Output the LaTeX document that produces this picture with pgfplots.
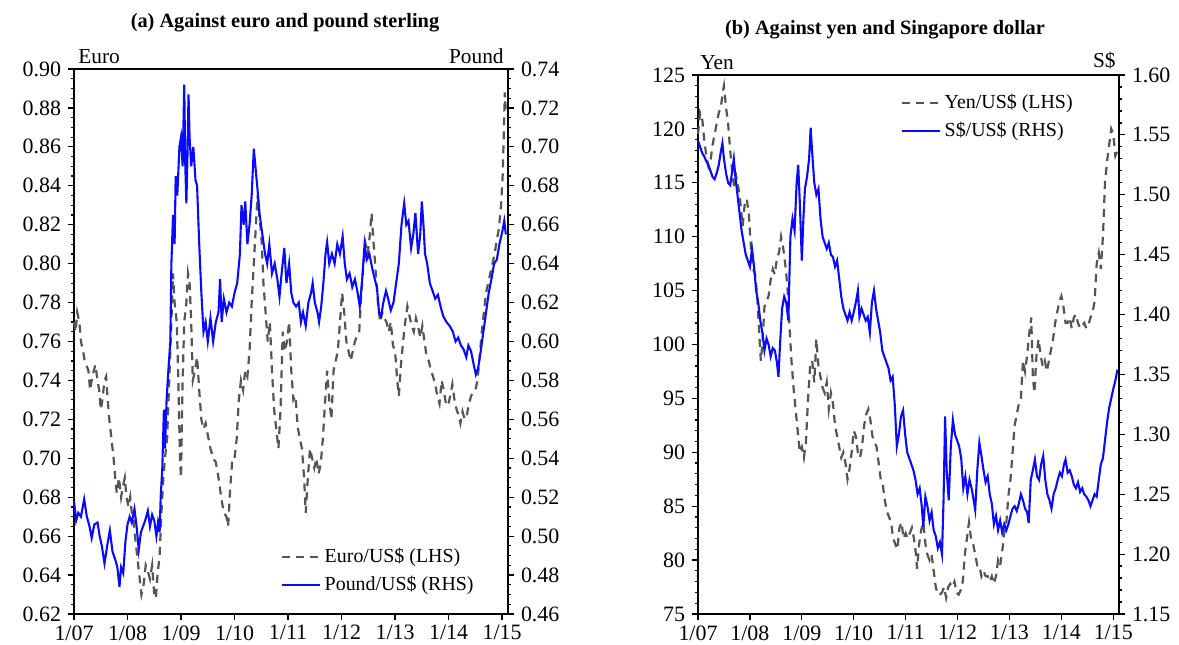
\documentclass[border=0pt]{standalone}
\usepackage{pgfplots}
\pgfplotsset{compat=1.18}
\usepackage{pgfplotstable}
\usepackage{fontspec}
\setmainfont{Liberation Serif}
\definecolor{dashgray}{HTML}{555555}
\definecolor{lineblue}{HTML}{0A0AFF}

% Euro/US$ (LHS, panel a)
\pgfplotstableread{
t v
2007.00 0.770
2007.03 0.765
2007.06 0.775
2007.10 0.770
2007.13 0.760
2007.17 0.755
2007.20 0.750
2007.23 0.748
2007.27 0.745
2007.30 0.735
2007.33 0.740
2007.37 0.745
2007.40 0.748
2007.44 0.740
2007.47 0.735
2007.50 0.725
2007.53 0.730
2007.57 0.740
2007.60 0.742
2007.63 0.730
2007.66 0.720
2007.70 0.710
2007.74 0.700
2007.77 0.690
2007.80 0.682
2007.84 0.690
2007.88 0.680
2007.91 0.685
2007.95 0.690
2007.98 0.680
2008.02 0.675
2008.05 0.680
2008.08 0.672
2008.11 0.670
2008.14 0.660
2008.18 0.650
2008.22 0.640
2008.26 0.630
2008.30 0.635
2008.34 0.645
2008.38 0.642
2008.42 0.638
2008.46 0.645
2008.50 0.630
2008.53 0.628
2008.56 0.640
2008.60 0.650
2008.63 0.670
2008.67 0.690
2008.70 0.700
2008.74 0.710
2008.78 0.740
2008.82 0.770
2008.85 0.795
2008.88 0.780
2008.92 0.770
2008.95 0.740
2008.98 0.700
2009.00 0.690
2009.03 0.740
2009.06 0.770
2009.10 0.780
2009.13 0.795
2009.16 0.790
2009.19 0.770
2009.22 0.740
2009.26 0.745
2009.30 0.752
2009.34 0.735
2009.38 0.720
2009.42 0.715
2009.46 0.718
2009.50 0.712
2009.55 0.705
2009.60 0.700
2009.65 0.698
2009.70 0.690
2009.75 0.680
2009.80 0.672
2009.85 0.670
2009.88 0.665
2009.92 0.685
2009.96 0.700
2010.00 0.700
2010.04 0.710
2010.08 0.730
2010.12 0.740
2010.16 0.735
2010.20 0.745
2010.24 0.742
2010.28 0.755
2010.32 0.780
2010.36 0.800
2010.40 0.820
2010.43 0.835
2010.46 0.825
2010.50 0.815
2010.54 0.790
2010.58 0.775
2010.62 0.760
2010.66 0.770
2010.70 0.745
2010.74 0.725
2010.78 0.715
2010.82 0.705
2010.86 0.725
2010.90 0.765
2010.94 0.755
2010.98 0.760
2011.02 0.770
2011.06 0.745
2011.10 0.730
2011.14 0.732
2011.18 0.716
2011.22 0.710
2011.26 0.705
2011.30 0.690
2011.33 0.672
2011.37 0.690
2011.41 0.705
2011.45 0.700
2011.49 0.695
2011.53 0.700
2011.57 0.692
2011.61 0.697
2011.65 0.710
2011.69 0.728
2011.73 0.745
2011.77 0.730
2011.81 0.720
2011.85 0.745
2011.89 0.750
2011.93 0.755
2011.97 0.770
2012.01 0.785
2012.05 0.775
2012.09 0.760
2012.13 0.755
2012.17 0.750
2012.21 0.755
2012.25 0.760
2012.29 0.763
2012.33 0.765
2012.37 0.785
2012.41 0.800
2012.45 0.810
2012.49 0.805
2012.53 0.815
2012.56 0.826
2012.60 0.810
2012.64 0.795
2012.68 0.780
2012.72 0.770
2012.76 0.775
2012.80 0.772
2012.84 0.770
2012.88 0.765
2012.92 0.770
2012.96 0.758
2013.00 0.755
2013.04 0.740
2013.07 0.732
2013.11 0.748
2013.15 0.760
2013.19 0.770
2013.23 0.778
2013.27 0.773
2013.31 0.768
2013.35 0.765
2013.39 0.772
2013.43 0.768
2013.47 0.762
2013.51 0.768
2013.55 0.760
2013.59 0.752
2013.63 0.750
2013.67 0.745
2013.71 0.742
2013.75 0.738
2013.79 0.732
2013.83 0.728
2013.87 0.740
2013.91 0.735
2013.95 0.728
2013.99 0.727
2014.03 0.732
2014.07 0.738
2014.11 0.730
2014.15 0.725
2014.19 0.722
2014.22 0.718
2014.26 0.724
2014.30 0.720
2014.34 0.722
2014.38 0.728
2014.42 0.732
2014.46 0.734
2014.50 0.735
2014.54 0.740
2014.58 0.752
2014.62 0.765
2014.66 0.775
2014.70 0.785
2014.74 0.790
2014.78 0.795
2014.82 0.800
2014.86 0.805
2014.90 0.812
2014.94 0.818
2014.98 0.830
2015.01 0.845
2015.03 0.865
2015.05 0.888
2015.07 0.877
}\euro

% Pound/US$ (RHS, panel a)
\pgfplotstableread{
t v
2007.00 0.518
2007.04 0.508
2007.08 0.512
2007.13 0.510
2007.19 0.519
2007.24 0.510
2007.29 0.505
2007.33 0.499
2007.38 0.506
2007.44 0.507
2007.48 0.500
2007.52 0.495
2007.57 0.486
2007.62 0.495
2007.67 0.503
2007.72 0.492
2007.77 0.488
2007.81 0.484
2007.85 0.474
2007.88 0.484
2007.92 0.481
2007.96 0.497
2008.00 0.506
2008.04 0.510
2008.08 0.507
2008.13 0.514
2008.17 0.505
2008.21 0.493
2008.25 0.502
2008.29 0.505
2008.33 0.508
2008.38 0.513
2008.42 0.505
2008.46 0.511
2008.50 0.508
2008.54 0.500
2008.57 0.507
2008.60 0.502
2008.62 0.520
2008.65 0.535
2008.68 0.565
2008.70 0.545
2008.73 0.570
2008.77 0.588
2008.80 0.600
2008.82 0.640
2008.85 0.665
2008.88 0.650
2008.90 0.685
2008.93 0.675
2008.97 0.700
2009.00 0.705
2009.03 0.690
2009.06 0.732
2009.08 0.690
2009.10 0.671
2009.12 0.695
2009.14 0.727
2009.16 0.705
2009.19 0.690
2009.23 0.700
2009.27 0.683
2009.30 0.680
2009.34 0.650
2009.38 0.625
2009.42 0.605
2009.46 0.610
2009.50 0.600
2009.55 0.612
2009.60 0.600
2009.65 0.610
2009.70 0.615
2009.73 0.632
2009.76 0.610
2009.80 0.622
2009.85 0.615
2009.90 0.620
2009.95 0.618
2010.00 0.625
2010.05 0.630
2010.10 0.645
2010.13 0.670
2010.17 0.660
2010.20 0.672
2010.24 0.650
2010.28 0.660
2010.32 0.675
2010.36 0.699
2010.39 0.690
2010.43 0.678
2010.47 0.665
2010.52 0.655
2010.57 0.645
2010.61 0.640
2010.65 0.650
2010.70 0.635
2010.75 0.640
2010.80 0.632
2010.84 0.623
2010.88 0.635
2010.93 0.648
2010.97 0.630
2011.02 0.640
2011.06 0.625
2011.10 0.620
2011.15 0.618
2011.20 0.620
2011.24 0.610
2011.28 0.615
2011.33 0.608
2011.38 0.620
2011.43 0.625
2011.46 0.630
2011.50 0.620
2011.55 0.615
2011.58 0.610
2011.62 0.618
2011.66 0.630
2011.70 0.645
2011.73 0.651
2011.77 0.640
2011.82 0.645
2011.87 0.640
2011.92 0.650
2011.97 0.645
2012.02 0.654
2012.06 0.640
2012.10 0.632
2012.15 0.635
2012.20 0.628
2012.25 0.632
2012.30 0.625
2012.34 0.618
2012.38 0.630
2012.43 0.650
2012.47 0.642
2012.52 0.645
2012.57 0.638
2012.62 0.632
2012.66 0.628
2012.70 0.615
2012.74 0.613
2012.78 0.620
2012.83 0.626
2012.87 0.622
2012.92 0.616
2012.97 0.620
2013.02 0.630
2013.07 0.640
2013.12 0.660
2013.17 0.671
2013.21 0.660
2013.25 0.662
2013.30 0.648
2013.34 0.655
2013.38 0.666
2013.43 0.645
2013.47 0.655
2013.50 0.672
2013.53 0.660
2013.56 0.645
2013.60 0.640
2013.65 0.630
2013.70 0.626
2013.75 0.622
2013.80 0.624
2013.85 0.618
2013.90 0.613
2013.96 0.610
2014.02 0.608
2014.08 0.605
2014.13 0.600
2014.18 0.602
2014.23 0.598
2014.28 0.596
2014.33 0.592
2014.37 0.598
2014.42 0.595
2014.47 0.588
2014.51 0.583
2014.55 0.586
2014.60 0.595
2014.65 0.605
2014.70 0.615
2014.75 0.625
2014.80 0.632
2014.85 0.640
2014.90 0.642
2014.95 0.650
2015.00 0.656
2015.04 0.662
2015.07 0.655
}\pound

% Yen/US$ (LHS, panel b)
\pgfplotstableread{
t v
2007.00 119.5
2007.04 121.5
2007.08 121.0
2007.12 119.0
2007.16 117.5
2007.20 116.5
2007.24 117.0
2007.28 118.5
2007.32 119.5
2007.36 120.5
2007.40 121.5
2007.44 122.0
2007.48 123.5
2007.50 124.0
2007.54 122.0
2007.58 120.5
2007.62 118.0
2007.66 116.0
2007.70 114.5
2007.74 115.5
2007.78 114.5
2007.82 113.0
2007.86 111.0
2007.90 113.0
2007.94 113.5
2007.98 112.0
2008.02 109.0
2008.06 107.0
2008.10 106.5
2008.14 104.5
2008.18 101.0
2008.21 98.5
2008.24 100.0
2008.28 103.5
2008.32 104.0
2008.36 104.5
2008.40 106.0
2008.44 107.0
2008.48 106.5
2008.52 108.0
2008.56 108.5
2008.60 110.0
2008.64 109.0
2008.68 107.5
2008.72 105.5
2008.76 102.0
2008.80 98.5
2008.84 96.0
2008.88 94.0
2008.92 92.0
2008.96 90.0
2009.00 90.5
2009.04 89.5
2009.08 91.0
2009.12 95.0
2009.16 98.0
2009.20 98.5
2009.24 96.5
2009.28 100.5
2009.32 98.0
2009.36 97.0
2009.40 96.0
2009.44 95.5
2009.48 96.5
2009.52 94.0
2009.56 95.5
2009.60 94.5
2009.64 92.5
2009.68 91.5
2009.72 90.5
2009.76 89.5
2009.80 90.0
2009.84 89.0
2009.88 87.5
2009.92 88.5
2009.96 90.0
2010.00 92.0
2010.04 91.5
2010.08 90.0
2010.12 89.5
2010.16 90.5
2010.20 92.5
2010.24 93.5
2010.28 94.0
2010.32 93.0
2010.36 91.5
2010.40 91.0
2010.44 90.5
2010.48 89.0
2010.52 87.5
2010.56 87.0
2010.60 85.5
2010.64 84.5
2010.68 84.0
2010.72 83.5
2010.76 82.0
2010.80 81.5
2010.84 81.0
2010.88 83.0
2010.92 83.5
2010.96 82.0
2011.00 82.5
2011.04 82.0
2011.08 82.5
2011.12 83.0
2011.16 82.0
2011.20 80.5
2011.22 79.2
2011.26 81.5
2011.30 82.8
2011.34 83.5
2011.38 81.5
2011.42 80.5
2011.46 80.0
2011.50 80.5
2011.54 79.0
2011.58 77.5
2011.62 76.8
2011.66 76.8
2011.70 77.0
2011.74 77.5
2011.78 76.5
2011.82 77.5
2011.86 77.8
2011.90 77.5
2011.94 78.0
2011.98 77.0
2012.02 76.8
2012.06 77.2
2012.10 78.0
2012.14 80.5
2012.18 82.0
2012.22 83.5
2012.26 82.0
2012.30 81.5
2012.34 80.5
2012.38 79.5
2012.42 79.5
2012.46 78.5
2012.50 79.0
2012.54 78.5
2012.58 78.5
2012.62 78.0
2012.66 78.5
2012.70 77.8
2012.74 78.5
2012.78 80.0
2012.82 79.5
2012.86 80.8
2012.90 82.5
2012.94 83.5
2012.98 86.0
2013.02 87.5
2013.06 90.0
2013.10 92.5
2013.14 93.5
2013.18 94.5
2013.22 95.0
2013.26 98.5
2013.30 97.5
2013.34 99.0
2013.38 101.0
2013.42 102.5
2013.45 97.0
2013.48 95.5
2013.52 99.0
2013.56 100.5
2013.60 99.0
2013.64 98.0
2013.68 98.5
2013.72 97.5
2013.76 98.5
2013.80 99.5
2013.84 100.5
2013.88 102.0
2013.92 103.0
2013.96 104.0
2014.00 104.5
2014.04 103.5
2014.08 102.0
2014.12 102.0
2014.16 102.5
2014.20 101.5
2014.24 102.5
2014.28 102.8
2014.32 102.0
2014.36 101.5
2014.40 101.7
2014.44 102.0
2014.48 101.5
2014.52 101.8
2014.56 102.5
2014.60 103.0
2014.64 104.0
2014.68 107.5
2014.72 108.5
2014.76 107.0
2014.80 110.0
2014.84 115.0
2014.88 117.0
2014.92 118.5
2014.96 120.0
2015.00 119.5
2015.04 117.5
2015.08 118.0
}\yen

% S$/US$ (RHS, panel b)
\pgfplotstableread{
t v
2007.00 1.545
2007.04 1.540
2007.08 1.535
2007.12 1.532
2007.16 1.528
2007.20 1.525
2007.24 1.520
2007.28 1.515
2007.32 1.513
2007.36 1.518
2007.40 1.525
2007.44 1.536
2007.47 1.543
2007.50 1.530
2007.54 1.518
2007.58 1.510
2007.62 1.508
2007.66 1.520
2007.69 1.530
2007.72 1.515
2007.76 1.500
2007.80 1.485
2007.84 1.470
2007.88 1.460
2007.92 1.450
2007.96 1.445
2008.00 1.440
2008.04 1.455
2008.08 1.440
2008.12 1.420
2008.16 1.410
2008.20 1.395
2008.24 1.385
2008.28 1.370
2008.32 1.380
2008.36 1.375
2008.40 1.365
2008.44 1.372
2008.48 1.370
2008.52 1.360
2008.55 1.348
2008.58 1.375
2008.62 1.405
2008.66 1.415
2008.70 1.410
2008.74 1.395
2008.78 1.465
2008.82 1.480
2008.86 1.470
2008.90 1.510
2008.93 1.525
2008.96 1.495
2009.00 1.445
2009.03 1.480
2009.06 1.505
2009.10 1.515
2009.14 1.530
2009.17 1.556
2009.20 1.535
2009.24 1.510
2009.28 1.500
2009.32 1.505
2009.36 1.480
2009.40 1.465
2009.44 1.460
2009.48 1.455
2009.52 1.460
2009.56 1.450
2009.60 1.448
2009.64 1.440
2009.68 1.445
2009.72 1.430
2009.76 1.415
2009.80 1.405
2009.84 1.400
2009.88 1.395
2009.92 1.402
2009.96 1.395
2010.00 1.402
2010.04 1.410
2010.08 1.420
2010.11 1.398
2010.15 1.405
2010.19 1.400
2010.23 1.395
2010.27 1.398
2010.31 1.385
2010.35 1.410
2010.39 1.420
2010.43 1.405
2010.47 1.395
2010.51 1.385
2010.55 1.370
2010.59 1.365
2010.63 1.360
2010.67 1.355
2010.71 1.345
2010.75 1.348
2010.79 1.325
2010.83 1.290
2010.87 1.300
2010.91 1.315
2010.95 1.320
2010.99 1.300
2011.03 1.285
2011.07 1.280
2011.11 1.275
2011.15 1.270
2011.19 1.262
2011.23 1.250
2011.27 1.255
2011.31 1.240
2011.34 1.223
2011.38 1.248
2011.42 1.240
2011.46 1.228
2011.50 1.235
2011.54 1.220
2011.58 1.215
2011.62 1.205
2011.66 1.210
2011.70 1.200
2011.73 1.245
2011.76 1.315
2011.79 1.270
2011.83 1.245
2011.87 1.290
2011.91 1.312
2011.95 1.300
2011.99 1.295
2012.03 1.290
2012.07 1.280
2012.11 1.255
2012.15 1.265
2012.19 1.250
2012.23 1.262
2012.27 1.255
2012.31 1.245
2012.34 1.237
2012.38 1.270
2012.42 1.293
2012.46 1.282
2012.50 1.270
2012.54 1.260
2012.58 1.265
2012.62 1.250
2012.66 1.242
2012.70 1.225
2012.74 1.232
2012.78 1.220
2012.82 1.228
2012.86 1.218
2012.90 1.225
2012.94 1.220
2012.98 1.225
2013.02 1.232
2013.06 1.238
2013.10 1.240
2013.14 1.236
2013.18 1.242
2013.22 1.250
2013.26 1.245
2013.30 1.238
2013.34 1.235
2013.37 1.226
2013.41 1.262
2013.45 1.270
2013.49 1.279
2013.53 1.265
2013.57 1.262
2013.61 1.275
2013.65 1.282
2013.69 1.262
2013.73 1.250
2013.77 1.245
2013.81 1.238
2013.85 1.250
2013.89 1.255
2013.93 1.262
2013.97 1.268
2014.01 1.265
2014.05 1.275
2014.08 1.279
2014.12 1.268
2014.16 1.270
2014.20 1.265
2014.24 1.258
2014.28 1.255
2014.32 1.260
2014.36 1.252
2014.40 1.255
2014.44 1.250
2014.48 1.248
2014.52 1.245
2014.56 1.240
2014.60 1.245
2014.64 1.250
2014.68 1.248
2014.72 1.262
2014.76 1.275
2014.80 1.280
2014.84 1.295
2014.88 1.310
2014.92 1.322
2014.96 1.330
2015.00 1.338
2015.04 1.345
2015.08 1.354
}\sgd

\pgfplotsset{
    fx base/.style={
        scale only axis,
        xmin=2007, xmax=2015.11,
        tick align=outside,
        major tick length=3bp,
        minor tick length=1.6bp,
        tick style={black, line width=0.6bp},
        axis line style={line width=0.7bp},
        ticklabel style={font=\fontsize{11}{13}\selectfont},
        /pgf/number format/assume math mode=true,
        clip=false,
    },
    fx left/.style={
        fx base,
        xtick={2007,...,2015},
        xticklabels={1/07,1/08,1/09,1/10,1/11,1/12,1/13,1/14,1/15},
        xticklabel style={yshift=0.8bp},
        minor x tick num=11,
        xtick pos=bottom,
        ytick pos=left,
    },
    fx right/.style={
        fx base,
        axis x line=none,
        axis y line*=right,
        legend cell align=left,
        legend style={draw=none, fill=none, font=\fontsize{10}{12}\selectfont,
            row sep=1.2bp, inner sep=0pt},
        legend image code/.code={\draw[##1] (0bp,0bp) -- (19bp,0bp);},
    },
    euroline/.style={dashgray, line width=1.1bp, dash pattern=on 4bp off 3bp},
    blueline/.style={lineblue, line width=1.05bp},
}

\begin{document}
\begin{tikzpicture}
% ---------- panel (a)
\begin{axis}[fx left, at={(0,0)}, anchor=south west,
    width=217bp, height=272.5bp,
    ymin=0.62, ymax=0.90, ytick={0.62,0.64,...,0.905}, minor y tick num=3,
    yticklabel style={/pgf/number format/.cd, fixed, fixed zerofill, precision=2},
]
\addplot[euroline] table[x=t, y=v] {\euro};
\end{axis}
\begin{axis}[fx right, at={(0,0)}, anchor=south west,
    width=217bp, height=272.5bp,
    ymin=0.46, ymax=0.74, ytick={0.46,0.48,...,0.745}, minor y tick num=3,
    yticklabel style={/pgf/number format/.cd, fixed, fixed zerofill, precision=2},
    legend style={at={(0.475,0.03)}, anchor=south west},
]
\addlegendimage{euroline}
\addlegendentry{Euro/US\$ (LHS)}
\addplot[blueline] table[x=t, y=v] {\pound};
\addlegendentry{Pound/US\$ (RHS)}
\end{axis}
\node[anchor=south west, font=\fontsize{10.7}{12}\selectfont, inner sep=0pt] at (2bp,275bp) {Euro};
\node[anchor=south east, font=\fontsize{10.7}{12}\selectfont, inner sep=0pt] at (215bp,275bp) {Pound};
\node[font=\fontsize{10.2}{12}\bfseries, inner sep=0pt] at (105.5bp,295.5bp) {(a) Against euro and pound sterling};

% ---------- panel (b)
\begin{axis}[fx left, at={(312bp,0)}, anchor=south west,
    width=210.5bp, height=269.5bp,
    ymin=75, ymax=125, ytick={75,80,...,125}, minor y tick num=4,
]
\addplot[euroline] table[x=t, y=v] {\yen};
\end{axis}
\begin{axis}[fx right, at={(312bp,0)}, anchor=south west,
    width=210.5bp, height=269.5bp,
    ymin=1.15, ymax=1.60, ytick={1.15,1.20,...,1.605}, minor y tick num=4,
    yticklabel style={/pgf/number format/.cd, fixed, fixed zerofill, precision=2},
    legend style={at={(0.48,0.972)}, anchor=north west},
]
\addlegendimage{euroline}
\addlegendentry{Yen/US\$ (LHS)}
\addplot[blueline] table[x=t, y=v] {\sgd};
\addlegendentry{S\$/US\$ (RHS)}
\end{axis}
\node[anchor=south west, font=\fontsize{10.7}{12}\selectfont, inner sep=0pt] at (313bp,272bp) {Yen};
\node[anchor=south east, font=\fontsize{10.7}{12}\selectfont, inner sep=0pt] at (521bp,272bp) {S\$};
\node[font=\fontsize{10.2}{12}\bfseries, inner sep=0pt] at (405.5bp,292bp) {(b) Against yen and Singapore dollar};

\pgfresetboundingbox
\path[use as bounding box] (-37bp,-15.5bp) rectangle (552.5bp,307bp);
\end{tikzpicture}
\end{document}
